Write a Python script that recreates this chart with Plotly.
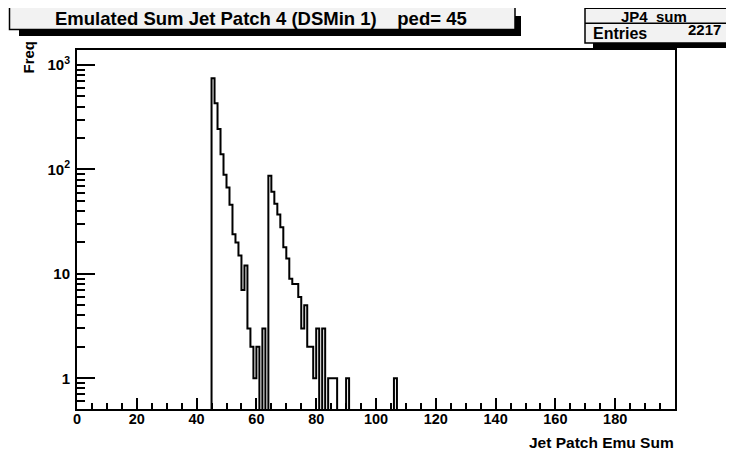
import plotly.graph_objects as go

# ---- data ----
n_bins = 200
x_min, x_max = 0, 200
first_bin = 45
counts_from_45 = [748, 431, 244, 140, 89, 67, 46, 24, 20, 15,
                  7, 12, 3, 2, 1, 2, 0, 3, 0, 87,
                  61, 47, 37, 28, 18, 14, 9, 8, 8, 6,
                  3, 5, 2, 2, 1, 3, 0, 3, 0, 1,
                  1, 1, 0, 0, 0, 1, 0, 0, 0, 0,
                  0, 0, 0, 0, 0, 0, 0, 0, 0, 0,
                  0, 1]
x_tick_vals = [0, 20, 40, 60, 80, 100, 120, 140, 160, 180]
y_tick_vals = [1, 10, 100, 1000]
y_tick_text = ["1", "10", "10<sup>2</sup>", "10<sup>3</sup>"]
title_text = "Emulated Sum Jet Patch 4 (DSMin 1)    ped= 45"
hist_name = "JP4_sum"
entries = 2217
x_title = "Jet Patch Emu Sum"
y_title = "Freq"

# full histogram
counts = [0] * n_bins
for i, c in enumerate(counts_from_45):
    counts[first_bin + i] = c
floor = 0.1  # zero bins drawn below the visible range (like ROOT log)
draw_y = [c if c > 0 else floor for c in counts]
edges = list(range(x_min, x_max + 1))
step_x = edges
step_y = draw_y + [draw_y[-1]]

minor_y = [m * 10 ** d for d in range(-1, 4) for m in range(2, 10)]

fig = go.Figure()
fig.add_trace(go.Scatter(x=step_x, y=step_y, mode="lines",
                         line=dict(color="black", width=2, shape="hv"),
                         hoverinfo="skip", showlegend=False))

# page has an 8px body margin; work in page pixels
OFF = 8
W, H = 734 - OFF, 455 - OFF
L, R, T, B = 77, 675, 50, 409
def px(x):
    return (x - L) / (R - L)
def py(y):
    return (B - y) / (B - T)

shapes = []
shapes.append(dict(type="rect", xref="paper", yref="paper",
                   x0=px(19), x1=px(521), y0=py(36), y1=py(16),
                   fillcolor="black", line=dict(width=0), layer="above"))
shapes.append(dict(type="rect", xref="paper", yref="paper",
                   x0=px(9.5), x1=px(515), y0=py(29.5), y1=py(6.5),
                   fillcolor="#f2f2f2", line=dict(color="black", width=1.5), layer="above"))
shapes.append(dict(type="rect", xref="paper", yref="paper",
                   x0=px(593), x1=px(760), y0=py(48), y1=py(16),
                   fillcolor="black", line=dict(width=0), layer="above"))
shapes.append(dict(type="rect", xref="paper", yref="paper",
                   x0=px(585), x1=px(745), y0=py(43), y1=py(8.3),
                   fillcolor="#f2f2f2", line=dict(color="black", width=1.5), layer="above"))
shapes.append(dict(type="line", xref="paper", yref="paper",
                   x0=px(585), x1=px(745), y0=py(23.3), y1=py(23.3),
                   line=dict(color="black", width=1.5), layer="above"))

font_family = "Liberation Sans, Arial, sans-serif"
annotations = [
    dict(text="<b>%s</b>" % title_text, xref="paper", yref="paper",
         x=px(261), y=py(18), xanchor="center", yanchor="middle",
         showarrow=False, font=dict(family=font_family, size=18.5, color="black")),
    dict(text="<b>%s</b>" % hist_name, xref="paper", yref="paper",
         x=px(654), y=py(16.5), xanchor="center", yanchor="middle",
         showarrow=False, font=dict(family=font_family, size=15, color="black")),
    dict(text="<b>Entries</b>", xref="paper", yref="paper",
         x=px(591), y=py(33.5), xanchor="left", yanchor="middle",
         showarrow=False, font=dict(family=font_family, size=16, color="black")),
    dict(text="<b>%d</b>" % entries, xref="paper", yref="paper",
         x=px(723), y=py(30), xanchor="right", yanchor="middle",
         showarrow=False, font=dict(family=font_family, size=15, color="black")),
    dict(text="<b>%s</b>" % x_title, xref="paper", yref="paper",
         x=px(676), y=py(443), xanchor="right", yanchor="middle",
         showarrow=False, font=dict(family=font_family, size=15.5, color="black")),
    dict(text="<b>%s</b>" % y_title, xref="paper", yref="paper",
         x=px(28), y=py(39), xanchor="center", yanchor="top", textangle=-90,
         showarrow=False, font=dict(family=font_family, size=15, color="black")),
]

fig.update_layout(
    width=W, height=H,
    margin=dict(l=L - OFF, r=W - (R - OFF), t=T - OFF, b=H - (B - OFF)),
    paper_bgcolor="white", plot_bgcolor="white",
    shapes=shapes, annotations=annotations,
    font=dict(family=font_family, color="black"),
)
fig.update_xaxes(range=[x_min, x_max], showgrid=False, zeroline=False,
                 showline=True, linecolor="black", linewidth=2, mirror=True,
                 tickmode="array", tickvals=x_tick_vals,
                 ticktext=["<b>%d</b>" % v for v in x_tick_vals],
                 ticks="inside", ticklen=11, tickwidth=1.5, tickcolor="black",
                 ticklabelstandoff=-4,
                 tickfont=dict(size=14.5, family=font_family, color="black"),
                 minor=dict(tickmode="linear", tick0=0, dtick=5, ticks="inside",
                            ticklen=6, tickwidth=1.5, tickcolor="black"))
fig.update_yaxes(type="log", range=[-0.294, 3.144], showgrid=False, zeroline=False,
                 showline=True, linecolor="black", linewidth=2, mirror=True,
                 tickmode="array", tickvals=y_tick_vals,
                 ticktext=["<b>%s</b>" % t for t in y_tick_text],
                 ticks="inside", ticklen=18, tickwidth=1.5, tickcolor="black",
                 ticklabelstandoff=2,
                 tickfont=dict(size=15, family=font_family, color="black"),
                 minor=dict(tickmode="array", tickvals=minor_y, ticks="inside",
                            ticklen=8, tickwidth=1.5, tickcolor="black"))

fig.write_html("out.html")
